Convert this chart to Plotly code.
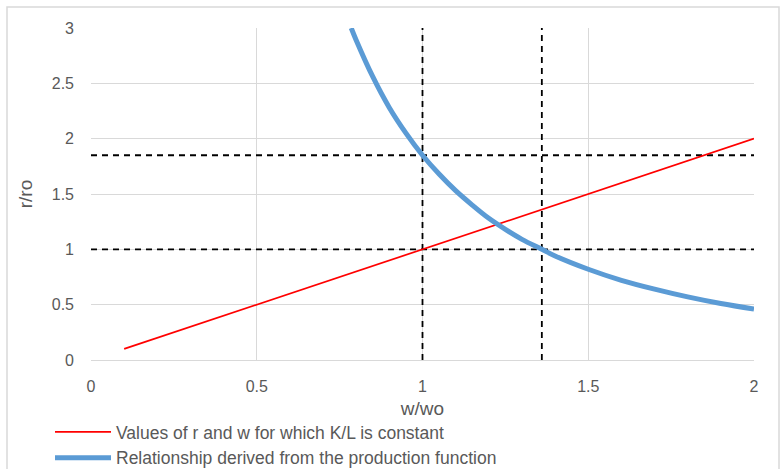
import plotly.graph_objects as go

# Data
red_w = [0.1, 0.2, 0.3, 0.4, 0.5, 0.6, 0.7, 0.8, 0.9, 1.0, 1.1, 1.2, 1.3, 1.4, 1.5, 1.6, 1.7, 1.8, 1.9, 2.0]
red_r = [0.1, 0.2, 0.3, 0.4, 0.5, 0.6, 0.7, 0.8, 0.9, 1.0, 1.1, 1.2, 1.3, 1.4, 1.5, 1.6, 1.7, 1.8, 1.9, 2.0]

blue_w = [0.785, 0.8, 0.85, 0.9, 0.95, 1.0, 1.05, 1.1, 1.15, 1.2, 1.25, 1.3, 1.36, 1.4, 1.5, 1.6, 1.7, 1.8, 1.9, 2.0]
blue_r = [3.0, 2.89, 2.56, 2.28, 2.05, 1.85, 1.68, 1.53, 1.40, 1.28, 1.18, 1.09, 1.0, 0.94, 0.82, 0.72, 0.64, 0.57, 0.51, 0.46]

w_levels = [1.0, 1.36]   # vertical dashed guides
r_levels = [1.0, 1.85]   # horizontal dashed guides
x_range = [0, 2]
y_range = [0, 3]
x_ticks = [0, 0.5, 1, 1.5, 2]
y_ticks = [0, 0.5, 1, 1.5, 2, 2.5, 3]

red_name = "Values of r and w for which K/L is constant"
blue_name = "Relationship derived from the production function"

FONT = "Liberation Sans"
GRAY = "#595959"

fig = go.Figure()

for w in w_levels:
    fig.add_trace(go.Scatter(x=[w, w], y=y_range, mode="lines",
                             line=dict(color="black", width=1.8, dash="6px,5px"),
                             showlegend=False, hoverinfo="skip"))
for r in r_levels:
    fig.add_trace(go.Scatter(x=x_range, y=[r, r], mode="lines",
                             line=dict(color="black", width=1.8, dash="6px,5px"),
                             showlegend=False, hoverinfo="skip"))

fig.add_trace(go.Scatter(x=red_w, y=red_r, mode="lines", name=red_name,
                         line=dict(color="#FF0000", width=1.7)))
fig.add_trace(go.Scatter(x=blue_w, y=blue_r, mode="lines", name=blue_name,
                         line=dict(color="#5B9BD5", width=5, shape="spline")))

L, R, T, B = 91, 29, 28, 109
W, H = 783, 469
pw, ph = W - L - R, H - T - B

fig.update_layout(
    width=W, height=H,
    margin=dict(l=L, r=R, t=T, b=B, autoexpand=False),
    paper_bgcolor="white", plot_bgcolor="white",
    font=dict(family=FONT, color=GRAY, size=16),
    xaxis=dict(range=x_range, tickvals=x_ticks, ticktext=[str(v) for v in x_ticks],
               showgrid=True, gridcolor="#D9D9D9", gridwidth=1,
               zeroline=False, showline=True, linecolor="#D9D9D9", linewidth=1,
               ticks="", ticklabelstandoff=12, automargin=False,
               tickfont=dict(size=16, color=GRAY),
               title=dict(text="w/wo", font=dict(size=19, color=GRAY), standoff=7)),
    yaxis=dict(range=y_range, tickvals=y_ticks, ticktext=[str(v) for v in y_ticks],
               showgrid=True, gridcolor="#D9D9D9", gridwidth=1,
               zeroline=False, showline=False, automargin=False,
               ticks="", ticklabelstandoff=16,
               tickfont=dict(size=16, color=GRAY),
               title=dict(text="r/ro", font=dict(size=19, color=GRAY), standoff=14)),
    legend=dict(x=(50 - L) / pw, y=(H - B - 414) / ph, xanchor="left", yanchor="top",
                font=dict(size=17.5, color=GRAY, family=FONT), itemwidth=56,
                bgcolor="rgba(0,0,0,0)", tracegroupgap=0),
    showlegend=True,
    shapes=[dict(type="rect", xref="paper", yref="paper",
                 x0=(7 - L) / pw, x1=(779 - L) / pw,
                 y0=(H - B - 490) / ph, y1=(H - B - 7) / ph,
                 line=dict(color="#D9D9D9", width=1.5), fillcolor="rgba(0,0,0,0)",
                 layer="above")],
)

fig.write_html("out.html", config={"displayModeBar": False},
               post_script="document.body.style.margin='0';")
